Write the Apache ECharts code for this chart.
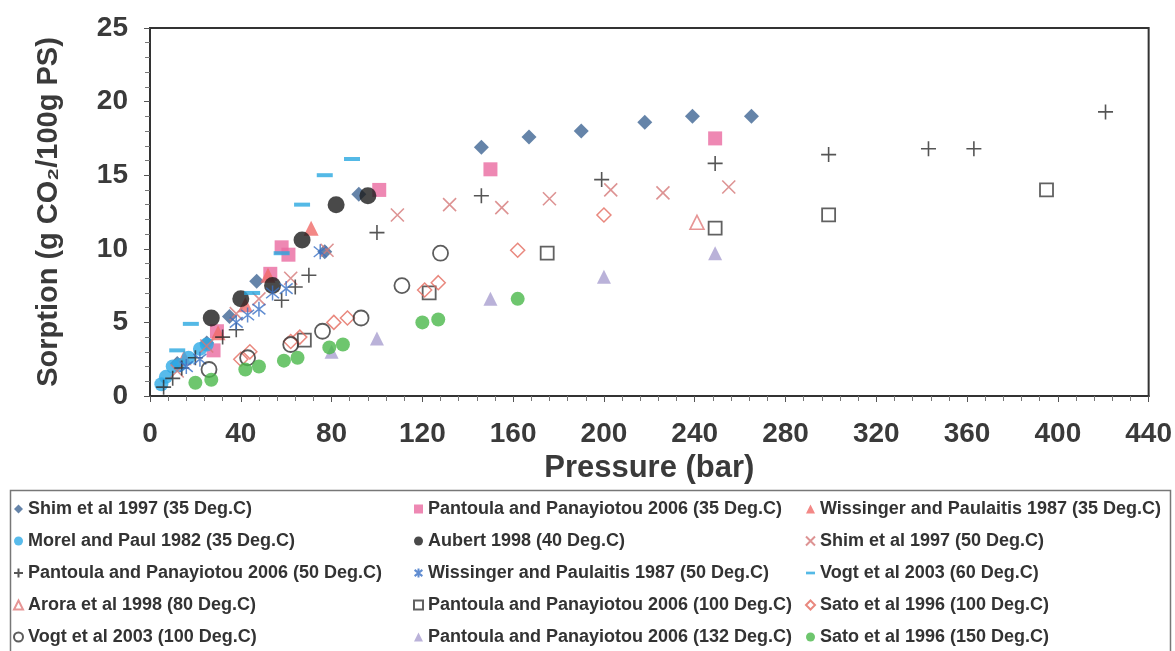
<!DOCTYPE html>
<html>
<head>
<meta charset="utf-8">
<script src="https://cdn.jsdelivr.net/npm/echarts@6/dist/echarts.min.js"></script>
<style>
  html, body { margin: 0; padding: 0; background: #fff; }
  #chart_001 { width: 1175px; height: 651px; }
</style>
</head>
<body>
<div id="chart_001"></div>
<script>
// pressure (bar), sorption (g CO2/100g PS)
var shim35 = [[12,2.2],[25,3.6],[35,5.4],[47,7.8],[77,9.8],[92,13.7],[146,16.9],[167,17.6],[190,18.0],[218,18.6],[239,19.0],[265,19.0]];
var pant35 = [[28,3.1],[29.5,4.4],[53,8.3],[58,10.1],[61,9.6],[101,14.0],[150,15.4],[249,17.5]];
var wiss35 = [[15,2.6],[30,4.3],[42,6.2],[52,8.2],[71,11.4]];
var morel35 = [[5,0.8],[7,1.3],[10,2.0],[13,2.1],[17,2.6],[22,3.2],[25,3.5]];
var aubert40 = [[27,5.3],[40,6.6],[54,7.5],[67,10.6],[82,13.0],[96,13.6]];
var shim50 = [[12,1.7],[25,3.4],[38,5.6],[48,6.6],[62,8.0],[78,9.9],[109,12.3],[132,13.0],[155,12.8],[176,13.4],[203,14.0],[226,13.8],[255,14.2]];
var pant50 = [[6,0.6],[10,1.2],[14,1.9],[20,2.6],[32,4.0],[38,4.5],[58,6.5],[64,7.4],[70,8.2],[100,11.1],[146,13.6],[199,14.7],[249,15.8],[299,16.4],[343,16.8],[363,16.8],[421,19.3]];
var wiss50 = [[16,2.0],[22,2.5],[38,5.0],[43,5.5],[48,5.9],[54,7.0],[60,7.3],[75,9.8]];
var vogt60 = [[12,3.1],[18,4.9],[45,7.0],[58,9.7],[67,13.0],[77,15.0],[89,16.1]];
var arora80 = [[241,11.8]];
var pant100 = [[68,3.8],[123,7.0],[175,9.7],[249,11.4],[299,12.3],[395,14.0]];
var sato100 = [[40,2.5],[44,3.0],[62,3.7],[66,4.0],[81,5.0],[87,5.3],[121,7.2],[127,7.7],[162,9.9],[200,12.3]];
var vogt100 = [[26,1.8],[43,2.6],[62,3.5],[76,4.4],[93,5.3],[111,7.5],[128,9.7]];
var pant132 = [[80,3.0],[100,3.9],[150,6.6],[200,8.1],[249,9.7]];
var sato150 = [[20,0.9],[27,1.1],[42,1.8],[48,2.0],[59,2.4],[65,2.6],[79,3.3],[85,3.5],[120,5.0],[127,5.2],[162,6.6]];

var xTicks = [0,40,80,120,160,200,240,280,320,360,400,440];
var yTicks = [0,5,10,15,20,25];

var legendCol1 = ['Shim et al 1997 (35 Deg.C)','Morel and Paul 1982 (35 Deg.C)','Pantoula and Panayiotou 2006 (50 Deg.C)','Arora et al 1998 (80 Deg.C)','Vogt et al 2003 (100 Deg.C)'];
var legendCol2 = ['Pantoula and Panayiotou 2006 (35 Deg.C)','Aubert 1998 (40 Deg.C)','Wissinger and Paulaitis 1987 (50 Deg.C)','Pantoula and Panayiotou 2006 (100 Deg.C)','Pantoula and Panayiotou 2006 (132 Deg.C)'];
var legendCol3 = ['Wissinger and Paulaitis 1987 (35 Deg.C)','Shim et al 1997 (50 Deg.C)','Vogt et al 2003 (60 Deg.C)','Sato et al 1996 (100 Deg.C)','Sato et al 1996 (150 Deg.C)'];

var CLEAR = 'rgba(255,255,255,0)';
var PLUS = 'path://M5,0L5,10M0,5L10,5';
var CROSS = 'path://M0,0L10,10M0,10L10,0';
var STAR = 'path://M5,0L5,10M0.7,1.5L9.3,8.5M0.7,8.5L9.3,1.5';
var DASH = 'path://M0,0L10,0L10,3L0,3Z';

function sc(name, data, symbol, size, style, z) {
    return {
        name: name, type: 'scatter', data: data,
        symbol: symbol, symbolSize: size, symbolKeepAspect: true,
        itemStyle: style, z: z || 2,
        emphasis: { disabled: true }
    };
}

var myChart = echarts.init(document.getElementById('chart_001'));

var legendBase = {
    orient: 'vertical', top: 500, padding: 0, itemWidth: 9, itemHeight: 9, itemGap: 14,
    textStyle: { fontFamily: 'Liberation Sans', fontWeight: 'bold', fontSize: 18, color: '#333' },
    selectedMode: false
};

function legendData(names) {
    return names.map(function (n) {
        return n === 'Vogt et al 2003 (60 Deg.C)' ? { name: n, icon: DASH } : n;
    });
}

var option = {
    animation: false,
    backgroundColor: '#fff',
    textStyle: { fontFamily: 'Liberation Sans' },
    grid: { left: 150, right: 25, top: 28, bottom: 255, show: true, borderColor: '#333', borderWidth: 2, backgroundColor: 'transparent' },
    legend: [
        Object.assign({}, legendBase, { left: 13, data: legendData(legendCol1) }),
        Object.assign({}, legendBase, { left: 413, data: legendData(legendCol2) }),
        Object.assign({}, legendBase, { left: 805, data: legendData(legendCol3) })
    ],
    graphic: [{
        type: 'rect', left: 8, top: 488, silent: true,
        shape: { width: 1160, height: 175 },
        style: { fill: 'none', stroke: '#777', lineWidth: 1.5 }
    }],
    xAxis: {
        type: 'value', min: xTicks[0], max: xTicks[xTicks.length - 1], interval: 40,
        name: 'Pressure (bar)', nameLocation: 'middle', nameGap: 57,
        nameTextStyle: { fontSize: 31, fontWeight: 'bold', color: '#3a3a3a' },
        axisLine: { show: true, lineStyle: { color: '#333', width: 2 } },
        axisTick: { show: true, inside: false, length: 6, lineStyle: { color: '#555' } },
        minorTick: { show: true, splitNumber: 5, length: 5, lineStyle: { color: '#777' } },
        axisLabel: { fontSize: 28, fontWeight: 'bold', color: '#3a3a3a', margin: 24 },
        splitLine: { show: false }
    },
    yAxis: {
        type: 'value', min: yTicks[0], max: yTicks[yTicks.length - 1], interval: 5,
        name: 'Sorption (g CO₂/100g PS)', nameLocation: 'middle', nameGap: 87, nameRotate: 90,
        nameTextStyle: { fontSize: 29, fontWeight: 'bold', color: '#3a3a3a' },
        axisLine: { show: true, lineStyle: { color: '#333', width: 2 } },
        axisTick: { show: true, inside: false, length: 6, lineStyle: { color: '#555' } },
        minorTick: { show: true, splitNumber: 5, length: 5, lineStyle: { color: '#777' } },
        axisLabel: { fontSize: 28, fontWeight: 'bold', color: '#3a3a3a', margin: 22 },
        splitLine: { show: false }
    },
    series: [
        sc(legendCol1[0], shim35, 'diamond', 15, { color: '#3e6593' }),
        sc(legendCol2[0], pant35, 'rect', 14, { color: '#ea6aa0' }),
        sc(legendCol3[0], wiss35, 'triangle', 15, { color: '#f06a68' }),
        sc(legendCol1[1], morel35, 'circle', 14, { color: '#2eaae6' }),
        sc(legendCol2[1], aubert40, 'circle', 17, { color: '#1c1c1c' }),
        sc(legendCol3[1], shim50, CROSS, 13, { color: CLEAR, borderColor: '#d57878', borderWidth: 1.6 }),
        sc(legendCol1[2], pant50, PLUS, 15, { color: CLEAR, borderColor: '#2a2a2a', borderWidth: 1.6 }),
        sc(legendCol2[2], wiss50, STAR, 15, { color: CLEAR, borderColor: '#3a70c6', borderWidth: 1.5 }),
        sc(legendCol3[2], vogt60, 'rect', [16, 4], { color: '#29a8e0' }),
        sc(legendCol1[3], arora80, 'triangle', 14, { color: CLEAR, borderColor: '#e07a7a', borderWidth: 1.6 }),
        sc(legendCol2[3], pant100, 'rect', 13, { color: CLEAR, borderColor: '#3a3a3a', borderWidth: 1.8 }),
        sc(legendCol3[3], sato100, 'diamond', 14, { color: CLEAR, borderColor: '#e46a5e', borderWidth: 1.5 }),
        sc(legendCol1[4], vogt100, 'circle', 15, { color: CLEAR, borderColor: '#333', borderWidth: 1.8 }),
        sc(legendCol2[4], pant132, 'triangle', 14, { color: '#a99fcf' }),
        sc(legendCol3[4], sato150, 'circle', 14, { color: '#4ab84a' })
    ]
};

// 为echarts对象加载数据
myChart.setOption(option);
</script>
</body>
</html>
